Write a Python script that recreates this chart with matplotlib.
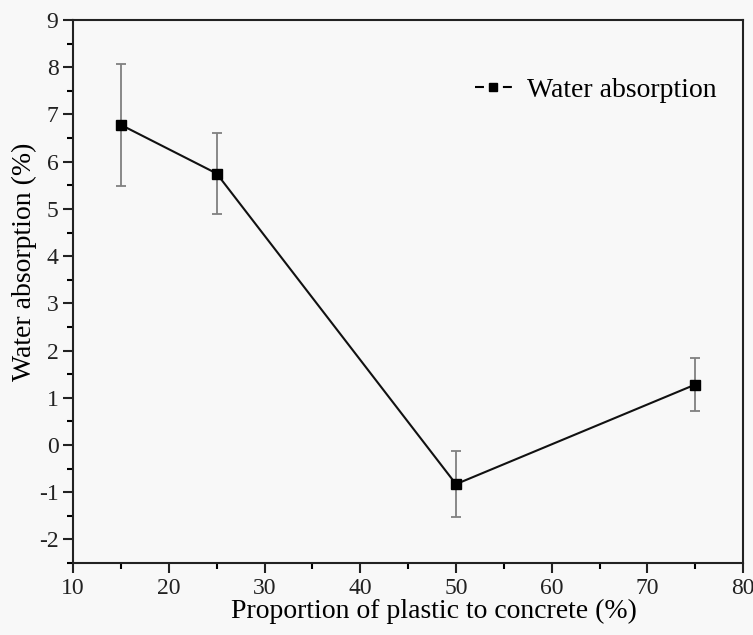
import numpy as np
import matplotlib
matplotlib.use('Agg')
from matplotlib import pyplot as plt
from matplotlib.ticker import MultipleLocator

plt.rcParams['font.family'] = ['Liberation Serif', 'DejaVu Serif']
plt.rcParams['axes.unicode_minus'] = False

proportion = [15, 25, 50, 75]
absorption = [6.78, 5.75, -0.83, 1.28]
err_low = [5.48, 4.90, -1.52, 0.71]
err_high = [8.07, 6.60, -0.13, 1.84]

yerr = [np.array(absorption) - np.array(err_low), np.array(err_high) - np.array(absorption)]

fig = plt.figure(figsize=(7.53, 6.35), dpi=100, facecolor='#f8f8f8')
ax = fig.add_axes([0.097, 0.1134, 0.89, 0.855])
ax.set_facecolor('#f8f8f8')

ax.errorbar(proportion, absorption, yerr=yerr, fmt='none', ecolor='#808080',
            elinewidth=1.3, capsize=3.8, capthick=1.3, zorder=2)
ax.plot(proportion, absorption, color='#111111', lw=1.5, zorder=3)
ax.plot(proportion, absorption, ls='none', marker='s', ms=7, color='black', zorder=4)

# legend handle: short dashes on both sides of a square marker
ax.plot([], [], ls=(0, (4.3, 9.1)), lw=1.5, color='black', marker='s', ms=6,
        label='Water absorption')
leg = ax.legend(loc='center right', frameon=False, fontsize=20, handlelength=1.33,
                handletextpad=0.55, bbox_to_anchor=(0.998, 0.871))

ax.set_xlim(10, 80)
ax.set_ylim(-2.5, 9)
ax.xaxis.set_major_locator(MultipleLocator(10))
ax.xaxis.set_minor_locator(MultipleLocator(5))
ax.yaxis.set_major_locator(MultipleLocator(1))
ax.yaxis.set_minor_locator(MultipleLocator(0.5))
ax.tick_params(which='major', direction='out', length=7, width=1.5, labelsize=17, colors='#222222')
ax.tick_params(which='minor', direction='out', length=4, width=1.5)
ax.tick_params(top=False, right=False)
for s in ax.spines.values():
    s.set_linewidth(1.5)
    s.set_color('#222222')

ax.set_xlabel('Proportion of plastic to concrete (%)', fontsize=20)
ax.set_ylabel('Water absorption (%)', fontsize=20)
ax.xaxis.set_label_coords(0.539, -0.066)
ax.yaxis.set_label_coords(-0.054, 0.554)

fig.savefig('out.png', dpi=100, facecolor=fig.get_facecolor())
